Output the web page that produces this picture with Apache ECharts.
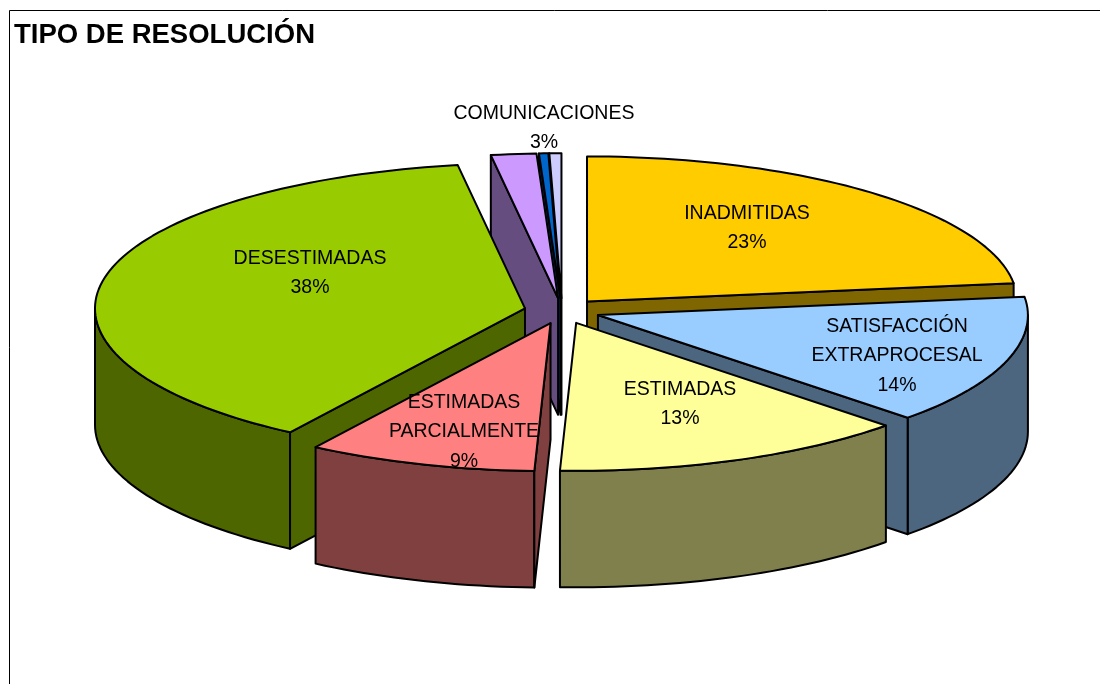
<!DOCTYPE html>
<html>
<head>
<meta charset="utf-8">
<title>Tipo de resolución</title>
<style>
  html, body { margin: 0; padding: 0; background: #fff; }
  #chart { width: 1100px; height: 684px; }
</style>
<script src="https://cdn.jsdelivr.net/npm/echarts@6/dist/echarts.min.js"></script>
</head>
<body>
<div id="chart"></div>
<script>
// slices clockwise from 12 o'clock, the last two have no label in the original
const names = ['INADMITIDAS', 'SATISFACCIÓN\nEXTRAPROCESAL', 'ESTIMADAS', 'ESTIMADAS\nPARCIALMENTE', 'DESESTIMADAS', 'COMUNICACIONES', '', ''];
const values = [23, 14.2, 13.4, 8.6, 38.3, 1.7, 0.35, 0.45];
const percentLabels = ['23%', '14%', '13%', '9%', '38%', '3%', '', ''];

const topColors = ['#FFCC00', '#99CCFF', '#FFFF99', '#FF8080', '#99CC00', '#CC99FF', '#0066CC', '#CCCCFF'];
const sideColors = ['#806600', '#4D6680', '#80804D', '#804040', '#4D6600', '#664D80', '#003366', '#666680'];

// back to front, excel paints it about like this
const drawOrder = [7, 6, 5, 0, 1, 4, 2, 3];
const labelCenters = [[747, 228], [897, 356], [680, 404], [464, 432], [310, 273], [544, 128]];

// pie geometry, the front half of the ellipse is a little deeper (perspective)
const cx = 562, cy = 311, rx = 430, ryBack = 145, ryFront = 148, depth = 116.5, explode = 0.088;

const total = values.reduce((a, b) => a + b, 0);
const rad = d => d * Math.PI / 180;

function sliceAngles(i) {
    let sum = 0;
    for (let k = 0; k < i; k++) sum += values[k];
    return [sum / total * 360, (sum + values[i]) / total * 360];
}

function rimPoint(apex, deg, dy) {
    const c = Math.cos(rad(deg));
    return [apex[0] + rx * Math.sin(rad(deg)), apex[1] - (c < 0 ? ryFront : ryBack) * c + (dy || 0)];
}

function arcPoints(apex, from, to, dy) {
    const pts = [];
    const steps = Math.max(2, Math.ceil((to - from) / 1.5));
    for (let s = 0; s <= steps; s++) pts.push(rimPoint(apex, from + (to - from) * s / steps, dy));
    return pts;
}

function poly(points, fill, z2) {
    return {
        type: 'polygon',
        z2: z2,
        shape: { points: points },
        style: { fill: fill, stroke: '#000', lineWidth: 2, lineJoin: 'round' }
    };
}

function cutFace(apex, deg, fill, z2) {
    const p = rimPoint(apex, deg);
    return poly([apex, p, [p[0], p[1] + depth], [apex[0], apex[1] + depth]], fill, z2);
}

function renderSlice(params) {
    const i = params.dataIndex;
    const [a0, a1] = sliceAngles(i);
    const mid = rad((a0 + a1) / 2);
    const apex = [cx + explode * rx * Math.sin(mid), cy - explode * ryBack * Math.cos(mid)];
    const base = drawOrder.indexOf(i) * 5 + 1;
    const children = [];

    // rim wall, only the front half of the ellipse shows
    const w0 = Math.max(a0, 90), w1 = Math.min(a1, 270);
    if (w1 > w0) {
        const wall = arcPoints(apex, w0, w1).concat(arcPoints(apex, w0, w1, depth).reverse());
        children.push(poly(wall, sideColors[i], base));
    }
    // cut faces turned to the viewer
    if (a0 > 180) children.push(cutFace(apex, a0, sideColors[i], base + 1));
    if (a1 < 180) children.push(cutFace(apex, a1, sideColors[i], base + 1));

    children.push(poly([apex].concat(arcPoints(apex, a0, a1)), topColors[i], base + 2));

    if (names[i]) {
        children.push({
            type: 'text',
            z2: 100,
            style: {
                text: names[i] + '\n' + percentLabels[i],
                x: labelCenters[i][0],
                y: labelCenters[i][1],
                align: 'center',
                verticalAlign: 'middle',
                fontFamily: 'Liberation Sans',
                fontSize: 19.5,
                lineHeight: 29.5,
                fill: '#000'
            }
        });
    }
    return { type: 'group', children: children };
}

const chart = echarts.init(document.getElementById('chart'), null, { renderer: 'canvas' });
chart.setOption({
    animation: false,
    backgroundColor: '#fff',
    title: {
        text: 'TIPO DE RESOLUCIÓN',
        left: 14,
        top: 21,
        padding: 0,
        textStyle: { fontFamily: 'Liberation Sans', fontSize: 27.5, fontWeight: 'bold', color: '#000' }
    },
    graphic: [{
        type: 'polyline',
        silent: true,
        shape: { points: [[9.5, 684], [9.5, 10.5], [1100, 10.5]] },
        style: { fill: null, stroke: '#000', lineWidth: 1 }
    }],
    series: [{
        type: 'custom',
        coordinateSystem: 'none',
        renderItem: renderSlice,
        data: values.map((v, i) => ({ name: names[i], value: [v] }))
    }]
});
</script>
</body>
</html>
